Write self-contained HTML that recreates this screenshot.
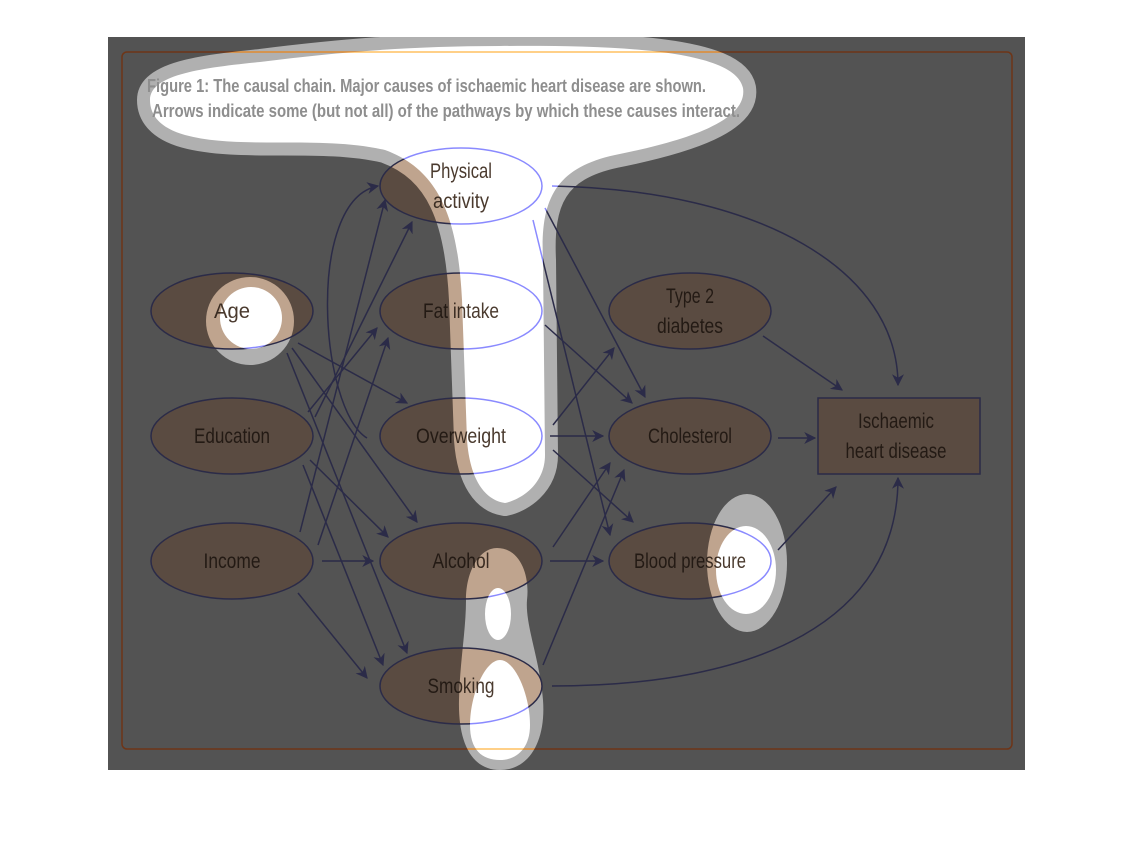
<!DOCTYPE html>
<html><head><meta charset="utf-8"><style>
html,body{margin:0;padding:0;background:#fff;}
svg{display:block;}
text{font-family:"Liberation Sans Narrow","Liberation Sans",sans-serif;font-size:21px;text-anchor:middle;}
.t{fill:#8e8e8e;font-size:18px;font-weight:bold;text-anchor:start;}
</style></head><body>
<svg width="1134" height="864" viewBox="0 0 1134 864" xmlns="http://www.w3.org/2000/svg">
<defs>
<marker id="ah" viewBox="0 0 10 10" refX="9" refY="5" markerWidth="12" markerHeight="12" orient="auto" markerUnits="userSpaceOnUse">
<path d="M0,0 L10,5 L0,10 L3,5 Z" fill="#2b2b48"/></marker>
<g id="d">
<rect x="122" y="52" width="890" height="697" rx="5" fill="none" style="stroke:var(--fr)" stroke-width="1.5"/>
<g style="fill:var(--ef);stroke:var(--es)" stroke-width="1.5">
<ellipse cx="232" cy="311" rx="81" ry="38"/>
<ellipse cx="232" cy="436" rx="81" ry="38"/>
<ellipse cx="232" cy="561" rx="81" ry="38"/>
<ellipse cx="461" cy="186" rx="81" ry="38"/>
<ellipse cx="461" cy="311" rx="81" ry="38"/>
<ellipse cx="461" cy="436" rx="81" ry="38"/>
<ellipse cx="461" cy="561" rx="81" ry="38"/>
<ellipse cx="461" cy="686" rx="81" ry="38"/>
<ellipse cx="690" cy="311" rx="81" ry="38"/>
<ellipse cx="690" cy="436" rx="81" ry="38"/>
<ellipse cx="690" cy="561" rx="81" ry="38"/>
<rect x="818" y="398" width="162" height="76"/>
</g>
<g fill="none" style="stroke:var(--ln)" stroke-width="1.5" marker-end="url(#ah)">
<line x1="298" y1="343" x2="407" y2="403"/>
<line x1="292" y1="348" x2="417" y2="522"/>
<line x1="287" y1="353" x2="407" y2="653"/>
<path d="M367,438 C320,410 305,200 378,186"/>
<line x1="308" y1="412" x2="377" y2="328"/>
<line x1="315" y1="417" x2="412" y2="222"/>
<line x1="300" y1="532" x2="385" y2="200"/>
<line x1="318" y1="545" x2="388" y2="338"/>
<line x1="310" y1="460" x2="388" y2="537"/>
<line x1="303" y1="465" x2="383" y2="665"/>
<line x1="322" y1="561" x2="373" y2="561"/>
<line x1="298" y1="593" x2="367" y2="678"/>
<path d="M552,186 C760,190 898,270 898,385"/>
<line x1="545" y1="208" x2="645" y2="397"/>
<line x1="533" y1="220" x2="610" y2="535"/>
<line x1="545" y1="325" x2="632" y2="403"/>
<line x1="553" y1="425" x2="614" y2="348"/>
<line x1="550" y1="436" x2="603" y2="436"/>
<line x1="553" y1="450" x2="633" y2="522"/>
<line x1="553" y1="547" x2="610" y2="463"/>
<line x1="550" y1="561" x2="603" y2="561"/>
<line x1="543" y1="665" x2="624" y2="470"/>
<path d="M552,686 C760,686 898,620 898,478"/>
<line x1="763" y1="336" x2="842" y2="390"/>
<line x1="778" y1="438" x2="815" y2="438"/>
<line x1="778" y1="550" x2="836" y2="487"/>
</g>
<g style="fill:var(--tx)" lengthAdjust="spacingAndGlyphs">
<text x="232" y="318" textLength="36" lengthAdjust="spacingAndGlyphs">Age</text>
<text x="232" y="443" textLength="76" lengthAdjust="spacingAndGlyphs">Education</text>
<text x="232" y="568" textLength="57" lengthAdjust="spacingAndGlyphs">Income</text>
<text x="461" y="178" textLength="62" lengthAdjust="spacingAndGlyphs">Physical</text>
<text x="461" y="208" textLength="56" lengthAdjust="spacingAndGlyphs">activity</text>
<text x="461" y="318" textLength="76" lengthAdjust="spacingAndGlyphs">Fat intake</text>
<text x="461" y="443" textLength="90" lengthAdjust="spacingAndGlyphs">Overweight</text>
<text x="461" y="568" textLength="57" lengthAdjust="spacingAndGlyphs">Alcohol</text>
<text x="461" y="693" textLength="67" lengthAdjust="spacingAndGlyphs">Smoking</text>
<text x="690" y="303" textLength="48" lengthAdjust="spacingAndGlyphs">Type 2</text>
<text x="690" y="333" textLength="66" lengthAdjust="spacingAndGlyphs">diabetes</text>
<text x="690" y="443" textLength="84" lengthAdjust="spacingAndGlyphs">Cholesterol</text>
<text x="690" y="568" textLength="112" lengthAdjust="spacingAndGlyphs">Blood pressure</text>
<text x="896" y="428" textLength="76" lengthAdjust="spacingAndGlyphs">Ischaemic</text>
<text x="896" y="458" textLength="101" lengthAdjust="spacingAndGlyphs">heart disease</text>
</g>
</g>
<mask id="mo" maskUnits="userSpaceOnUse" x="0" y="0" width="1134" height="864">
<rect width="1134" height="864" fill="#000"/>
<path d="M150,100 C150,75 200,68 260,62 C340,52 410,46 500,46 C620,45 735,50 743,88 C748,120 690,140 615,155 C555,168 540,200 543,260 L545,455 C545,485 520,500 505,503 C485,500 470,480 467,440 L462,300 C458,220 440,170 385,150 C320,135 240,150 185,135 C160,128 150,115 150,100 Z" fill="#fff" stroke="#fff" stroke-width="26" stroke-linejoin="round"/>
<circle cx="250" cy="321" r="44" fill="#fff"/>
<ellipse cx="747" cy="563" rx="40" ry="69" fill="#fff"/>
<path d="M497,548 C520,548 530,575 527,600 C525,625 540,660 543,700 C546,740 530,770 500,770 C470,770 458,740 459,700 C460,660 466,630 466,600 C466,570 480,548 497,548 Z" fill="#fff"/>
</mask>
<mask id="mi" maskUnits="userSpaceOnUse" x="0" y="0" width="1134" height="864">
<rect width="1134" height="864" fill="#000"/>
<path d="M150,100 C150,75 200,68 260,62 C340,52 410,46 500,46 C620,45 735,50 743,88 C748,120 690,140 615,155 C555,168 540,200 543,260 L545,455 C545,485 520,500 505,503 C485,500 470,480 467,440 L462,300 C458,220 440,170 385,150 C320,135 240,150 185,135 C160,128 150,115 150,100 Z" fill="#fff"/>
<circle cx="251" cy="318" r="31" fill="#fff"/>
<ellipse cx="746" cy="570" rx="30" ry="44" fill="#fff"/>
<ellipse cx="498" cy="614" rx="13" ry="26" fill="#fff"/>
<path d="M500,660 C515,660 530,695 530,725 C530,750 515,760 500,760 C482,760 470,750 470,725 C470,695 485,660 500,660 Z" fill="#fff"/>
</mask>
</defs>
<rect width="1134" height="864" fill="#fff"/>
<g style="--ef:#5a4b41;--es:#2b2b48;--tx:#231a14;--ln:#2b2b48;--fr:#6e3517">
<rect x="108" y="37" width="917" height="733" fill="#535353"/>
<use href="#d"/>
</g>
<g mask="url(#mo)" style="--ef:#bfa48e;--es:#2b2b48;--tx:#3a2c22;--ln:#2b2b48;--fr:#e08a30">
<rect x="108" y="37" width="917" height="733" fill="#b0b0b0"/>
<use href="#d"/>
</g>
<g mask="url(#mi)" style="--ef:#ffffff;--es:#8a8aff;--tx:#4a3a2e;--ln:#8a8aff;--fr:#ffc060">
<rect x="108" y="37" width="917" height="733" fill="#ffffff"/>
<use href="#d"/>
</g>
<text class="t" x="147" y="92" textLength="559" lengthAdjust="spacingAndGlyphs">Figure 1: The causal chain. Major causes of ischaemic heart disease are shown.</text>
<text class="t" x="152" y="117" textLength="588" lengthAdjust="spacingAndGlyphs">Arrows indicate some (but not all) of the pathways by which these causes interact.</text>
</svg>
</body></html>
